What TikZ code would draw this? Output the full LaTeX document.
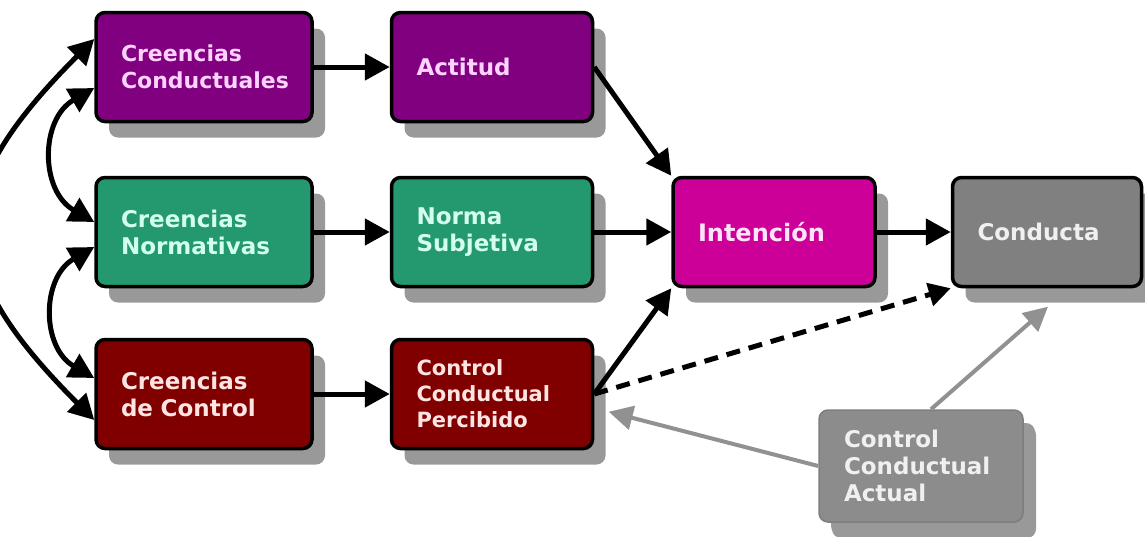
\documentclass[tikz,border=0pt]{standalone}
\usepackage{fontspec}
\setmainfont{DejaVu Sans}
\usetikzlibrary{arrows.meta,shadows}
\definecolor{morado}{RGB}{128,0,128}
\definecolor{moradoT}{RGB}{255,210,255}
\definecolor{verde}{RGB}{36,152,110}
\definecolor{verdeT}{RGB}{210,255,238}
\definecolor{granate}{RGB}{128,0,0}
\definecolor{granateT}{RGB}{255,228,228}
\definecolor{fucsia}{RGB}{204,0,153}
\definecolor{fucsiaT}{RGB}{255,228,248}
\definecolor{gris}{RGB}{128,128,128}
\definecolor{grisT}{RGB}{240,240,240}
\definecolor{grisclaro}{RGB}{140,140,140}
\definecolor{sombra}{RGB}{153,153,153}
\definecolor{flechagris}{RGB}{145,145,145}
\begin{document}
\begin{tikzpicture}[x=1pt,y=-1pt,
	box/.style={draw=black, line width=3.5pt, rounded corners=9pt, minimum height=109pt,
		inner xsep=25pt, inner ysep=0pt, align=left, font=\fontsize{23}{27}\selectfont\bfseries,
		drop shadow={shadow xshift=13pt, shadow yshift=-16pt, fill=sombra, opacity=1}},
	flecha/.style={line width=5pt, -{Triangle[length=25pt,width=26pt]}},
	doble/.style={line width=5pt, {Triangle[length=25pt,width=26pt]}-{Triangle[length=25pt,width=26pt]}},
	discontinua/.style={line width=5pt, dash pattern=on 14pt off 9pt, -{Triangle[length=22pt,width=23pt]}},
	flechagr/.style={line width=4pt, draw=flechagris, -{Triangle[length=24pt,width=24pt]}}]
	\useasboundingbox (0,0) rectangle (1145,536);
	\node[box, fill=morado, text=moradoT, text width=166pt, font=\fontsize{22}{27}\selectfont\bfseries] (cc) at (204,67) {Creencias\\Conductuales};
	\node[box, fill=morado, text=moradoT, text width=151pt] (act) at (492,67) {Actitud};
	\node[box, fill=verde, text=verdeT, text width=166pt] (cn) at (204,232) {Creencias\\Normativas};
	\node[box, fill=verde, text=verdeT, text width=151pt] (ns) at (492,232) {Norma\\Subjetiva};
	\node[box, fill=granate, text=granateT, text width=166pt] (cdc) at (204,394) {Creencias\\de Control};
	\node[box, fill=granate, text=granateT, text width=151pt, font=\fontsize{21}{26}\selectfont\bfseries] (ccp) at (492,394) {Control\\Conductual\\Percibido};
	\node[box, fill=fucsia, text=fucsiaT, text width=152pt, font=\fontsize{24}{27}\selectfont\bfseries] (int) at (774,232) {Intención};
	\node[box, fill=gris, text=grisT, text width=139pt] (con) at (1047,232) {Conducta};
	\node[box, draw=grisclaro!90!black, line width=1.5pt, fill=grisclaro, text=grisT, text width=154pt, minimum height=112pt,
		drop shadow={shadow xshift=12pt, shadow yshift=-13pt, fill=sombra, opacity=1}] (cca) at (921,466) {Control\\Conductual\\Actual};
	\draw[flecha] (cc) -- (act);
	\draw[flecha] (cn) -- (ns);
	\draw[flecha] (cdc) -- (ccp);
	\draw[flecha] (act.east) -- (int.north west);
	\draw[flecha] (ns) -- (int);
	\draw[flecha] (ccp.east) -- (int.south west);
	\draw[flecha] (int) -- (con);
	\draw[discontinua] (ccp.east) -- (con.south west);
	\draw[flechagr, shorten >=15pt] (cca.west) -- ([yshift=-14pt]ccp.east);
	\draw[flechagr, shorten >=28pt] ([xshift=10pt]cca.north) -- ([xshift=22pt]con.south);
	\draw[doble] ([yshift=28pt]cc.west) to[out=225, in=135, looseness=1.45] ([yshift=-26pt]cdc.west);
	\draw[doble] ([yshift=-21pt]cc.west) to[out=210, in=150, looseness=1.2] ([yshift=10pt]cn.west);
	\draw[doble] ([yshift=-15pt]cn.west) to[out=210, in=150, looseness=1.2] ([yshift=16pt]cdc.west);
\end{tikzpicture}
\end{document}
